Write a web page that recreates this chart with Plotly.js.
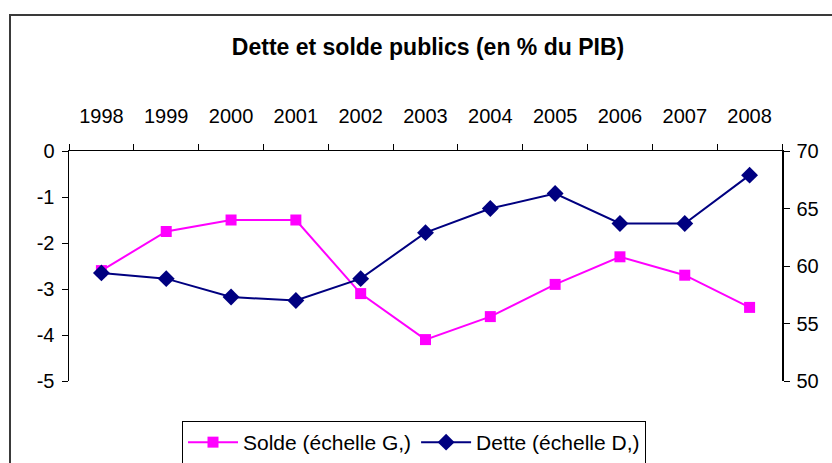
<!DOCTYPE html>
<html><head><meta charset="utf-8">
<script src="https://cdn.plot.ly/plotly-3.0.1.min.js"></script>
<style>
html,body{margin:0;padding:0;background:#fff;overflow:hidden;}
#frame{position:absolute;left:9px;top:14px;width:900px;height:500px;border:2px solid #3a3a3a;box-sizing:border-box;}
#chart{position:absolute;left:0;top:0;width:832px;height:463px;}
</style></head>
<body>
<div id="frame"></div>
<div id="chart"></div>
<script>
const years = ['1998','1999','2000','2001','2002','2003','2004','2005','2006','2007','2008'];
const solde = [-2.6, -1.75, -1.5, -1.5, -3.1, -4.1, -3.6, -2.9, -2.3, -2.7, -3.4];
const dette = [59.4, 58.9, 57.3, 57.0, 58.9, 62.9, 65.0, 66.3, 63.7, 63.7, 67.9];
const leftTicks = [0, -1, -2, -3, -4, -5];
const leftTickText = ['0', '-1', '-2', '-3', '-4', '-5'];
const rightTicks = [70, 65, 60, 55, 50];
const soldeName = 'Solde (échelle G,)';
const detteName = 'Dette (échelle D,)';
const titleText = '<b>Dette et solde publics (en % du PIB)</b>';

const fam = 'Arial, "Liberation Sans", sans-serif';
const font = {family: fam, size: 20, color: '#000'};

const traces = [
  {x: years, y: solde, name: soldeName, type: 'scatter', mode: 'lines+markers',
   xaxis: 'x', yaxis: 'y',
   line: {color: '#FF00FF', width: 2}, marker: {symbol: 'square', size: 11, color: '#FF00FF'}},
  {x: years, y: dette, name: detteName, type: 'scatter', mode: 'lines+markers',
   xaxis: 'x', yaxis: 'y2',
   line: {color: '#000080', width: 2}, marker: {symbol: 'diamond', size: 13, color: '#000080'}}
];

const layout = {
  width: 832, height: 463,
  margin: {l: 69, r: 50, t: 151, b: 82, autoexpand: false},
  paper_bgcolor: 'rgba(0,0,0,0)', plot_bgcolor: '#fff',
  font: font,
  showlegend: true,
  title: {text: titleText, font: {family: fam, size: 23, color: '#000'},
          x: 428/832, xref: 'container', xanchor: 'center', y: 1 - 47/463, yref: 'container', yanchor: 'middle'},
  xaxis: {type: 'category', side: 'top', range: [-0.5, 10.5], tickson: 'boundaries',
          ticks: 'outside', ticklen: 6, tickcolor: '#000', tickwidth: 1,
          showline: true, linecolor: '#000', linewidth: 1.5, showgrid: false, zeroline: false,
          ticklabelstandoff: 19, tickfont: font, fixedrange: true},
  xaxis2: {overlaying: 'x', side: 'top', anchor: 'y', range: [-0.5, 10.5], tick0: -0.5, dtick: 1,
           ticks: 'inside', ticklen: 6, tickcolor: '#000', showticklabels: false,
           showline: false, showgrid: false, zeroline: false},
  xaxis3: {overlaying: 'x', side: 'bottom', anchor: 'y', range: [-0.5, 10.5],
           ticks: '', showticklabels: false, showline: true, linecolor: '#808080', linewidth: 2,
           showgrid: false, zeroline: false},
  yaxis: {range: [-5, 0], tickmode: 'array', tickvals: leftTicks, ticktext: leftTickText,
          side: 'left', ticks: 'outside', ticklen: 6, tickcolor: '#000',
          showline: true, linecolor: '#000', linewidth: 1.5, showgrid: false, zeroline: false,
          ticklabelstandoff: 3, tickfont: font},
  yaxis3: {overlaying: 'y', side: 'left', anchor: 'x', range: [-5, 0], dtick: 1, ticks: 'inside', ticklen: 5,
           tickcolor: '#000', showticklabels: false, showline: false, showgrid: false, zeroline: false},
  yaxis2: {overlaying: 'y', side: 'right', anchor: 'x', range: [50, 70], tickmode: 'array', tickvals: rightTicks,
           ticks: 'outside', ticklen: 6,
           tickcolor: '#000', showline: true, linecolor: '#000', linewidth: 1.5, showgrid: false, zeroline: false,
           ticklabelstandoff: 3, tickfont: font},
  yaxis4: {overlaying: 'y', side: 'right', anchor: 'x', range: [50, 70], dtick: 5, ticks: 'inside', ticklen: 5,
           tickcolor: '#000', showticklabels: false, showline: false, showgrid: false, zeroline: false},
  legend: {orientation: 'h', x: (182-69)/713, xanchor: 'left', y: -(421-381)/230, yanchor: 'top',
           bordercolor: '#000', borderwidth: 1, bgcolor: '#fff', font: {family: fam, size: 21, color: '#000'},
           itemwidth: 50, traceorder: 'normal'}
};

Plotly.newPlot('chart', traces, layout, {displayModeBar: false, staticPlot: true});
</script>
</body></html>
